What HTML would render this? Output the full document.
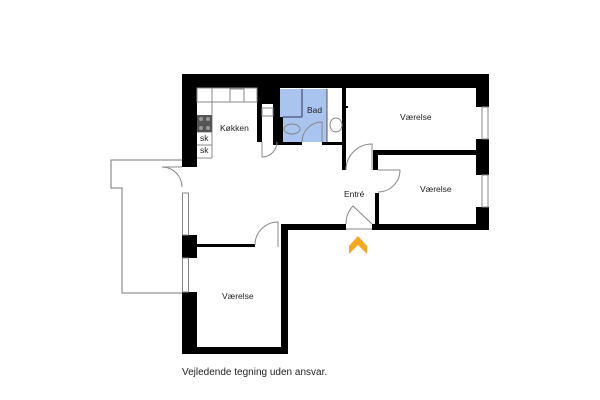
<!DOCTYPE html>
<html><head><style>body{margin:0;background:#fff}svg{display:block}text{font-family:"Liberation Sans",sans-serif;fill:#222}</style></head><body>
<svg width="600" height="400" viewBox="0 0 600 400" xmlns="http://www.w3.org/2000/svg">
<polyline points="182,160 111,160 111,188 122,188 122,293 182,293" fill="none" stroke="#777" stroke-width="1"/>
<rect x="280" y="89" width="47" height="53" fill="#a9c4ef"/>
<line x1="302" y1="89" x2="302" y2="117" stroke="#335" stroke-width="1"/>
<line x1="283" y1="117" x2="302" y2="117" stroke="#335" stroke-width="1"/>
<line x1="327" y1="89" x2="327" y2="142" stroke="#555" stroke-width="1"/>
<g fill="#000">
<rect x="182" y="74" width="307" height="14"/>
<rect x="182" y="74" width="15" height="93"/>
<rect x="182" y="235" width="15" height="23"/>
<rect x="182" y="292" width="15" height="62"/>
<rect x="182" y="347" width="106" height="7"/>
<rect x="281" y="224" width="7" height="130"/>
<rect x="281" y="224" width="65" height="6"/>
<rect x="372" y="224" width="117" height="6"/>
<rect x="476" y="74" width="13" height="33"/>
<rect x="476" y="139" width="13" height="36"/>
<rect x="476" y="207" width="13" height="23"/>
<rect x="197" y="244" width="58" height="3"/>
<rect x="257" y="88" width="23" height="16"/>
<rect x="257" y="88" width="5" height="54"/>
<rect x="273" y="104" width="7" height="13"/>
<rect x="273" y="117" width="10" height="28"/>
<rect x="273" y="142" width="29" height="3"/>
<rect x="322" y="142" width="24" height="3"/>
<rect x="342" y="88" width="4" height="82"/>
<rect x="373" y="150" width="103" height="5"/>
<rect x="373" y="150" width="5" height="20"/>
<rect x="375" y="193" width="4" height="35"/>
<rect x="342" y="106" width="6" height="2"/>
</g>
<g fill="#fff" stroke="#888" stroke-width="1">
<rect x="182.5" y="193" width="6" height="42"/>
<rect x="182.5" y="258" width="6" height="34"/>
<rect x="482" y="107" width="6" height="32"/>
<rect x="482" y="175" width="6" height="32"/>
</g>
<g fill="none" stroke="#888" stroke-width="1">
<rect x="197" y="88" width="60" height="14"/>
<line x1="212" y1="102" x2="212" y2="158"/>
<line x1="197" y1="158" x2="212" y2="158"/>
<line x1="197" y1="145" x2="212" y2="145"/>
<line x1="197" y1="132" x2="212" y2="132"/>
<line x1="212" y1="88" x2="212" y2="102"/>
<rect x="230" y="89" width="14" height="13"/>
<rect x="262" y="108" width="11" height="8"/>
<path d="M262,142 L262,157 A15,15 0 0,0 277,142"/>
<path d="M162,167 A20,20 0 0,1 182,187 M162,167 L182,167"/>
<path d="M255,245 A23,23 0 0,1 278,222 L278,247"/>
<path d="M302,142 A20,20 0 0,1 322,122 L322,142"/>
<path d="M346,170 A26,26 0 0,1 372,144 L372,170"/>
<path d="M378,170 L400,170 A22,22 0 0,1 378,192"/>
<path d="M346,224 A26,26 0 0,1 353,206 L372,224"/>
<line x1="346" y1="229" x2="372" y2="229"/>
<ellipse cx="336" cy="125" rx="6" ry="7"/>
<ellipse cx="292" cy="129" rx="8" ry="5"/>
</g>
<rect x="197" y="115" width="15" height="17" fill="#555"/>
<g fill="#999"><circle cx="201" cy="119" r="2"/><circle cx="208" cy="119" r="2"/><circle cx="201" cy="128" r="2"/><circle cx="208" cy="128" r="2"/></g>
<polygon points="349,246 358,236 367,246 367,254 358,245 349,254" fill="#f5a623"/>
<g font-size="8.5">
<text x="220" y="131">Køkken</text>
<text x="307" y="113">Bad</text>
<text x="400" y="120">Værelse</text>
<text x="420" y="192">Værelse</text>
<text x="344" y="197">Entré</text>
<text x="222" y="299">Værelse</text>
<text x="200" y="141">sk</text>
<text x="200" y="153">sk</text>
</g>
<text x="182" y="375" font-size="10">Vejledende tegning uden ansvar.</text>
</svg>
</body></html>
